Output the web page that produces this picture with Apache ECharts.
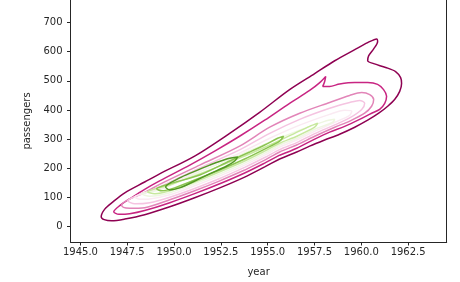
<!DOCTYPE html>
<html><head><meta charset="utf-8">
<script src="https://cdn.jsdelivr.net/npm/echarts@6/dist/echarts.min.js"></script>
<style>html,body{margin:0;padding:0;background:#fff}#chart{width:460px;height:282px}</style>
</head><body><div id="chart"></div>
<script>
const xTicks = [1945.0, 1947.5, 1950.0, 1952.5, 1955.0, 1957.5, 1960.0, 1962.5];
const yTicks = [0, 100, 200, 300, 400, 500, 600, 700];

// KDE contour lines (year, passengers), outermost (lowest density) first
const contour1 = [[1946.11,34],[1946.30,60],[1946.72,84],[1947.37,116],[1948.43,153],[1949.23,181],[1951.10,242],[1952.97,320],[1954.57,392],[1956.17,470],[1957.51,525],[1958.58,569],[1959.65,607],[1960.34,631],[1960.82,644],[1960.87,634],[1960.66,610],[1960.39,586],[1960.34,569],[1960.66,559],[1961.30,546],[1961.83,532],[1962.10,511],[1962.15,491],[1962.05,464],[1961.78,436],[1961.41,413],[1960.93,389],[1960.34,365],[1959.65,341],[1958.84,317],[1958.04,297],[1957.24,276],[1956.55,256],[1955.64,232],[1954.84,205],[1953.77,170],[1952.44,133],[1951.10,99],[1949.77,68],[1948.43,41],[1947.37,26],[1946.67,20],[1946.27,24],[1946.11,34]];
const contour2 = [[1946.78,51],[1947.10,72],[1947.63,95],[1948.43,128],[1949.23,157],[1950.84,211],[1952.17,259],[1953.50,310],[1954.84,365],[1956.17,423],[1957.24,467],[1957.78,494],[1958.10,515],[1958.04,497],[1957.94,481],[1958.31,481],[1958.84,489],[1959.65,494],[1960.34,494],[1960.87,488],[1961.19,470],[1961.35,447],[1961.25,423],[1960.98,402],[1960.55,389],[1959.91,368],[1959.11,344],[1958.31,324],[1957.51,300],[1956.55,269],[1955.64,245],[1954.84,218],[1953.77,184],[1952.44,147],[1951.10,113],[1949.77,82],[1948.43,55],[1947.63,44],[1947.05,42],[1946.78,51]];
const contour3 = [[1947.20,75],[1947.53,92],[1948.43,117],[1949.23,145],[1951.37,211],[1953.50,276],[1955.11,341],[1956.71,389],[1958.31,426],[1959.38,450],[1960.02,460],[1960.45,453],[1960.66,436],[1960.55,413],[1960.18,389],[1959.38,362],[1958.58,341],[1957.51,310],[1956.55,280],[1955.64,256],[1954.84,228],[1953.77,194],[1952.44,157],[1951.10,123],[1949.77,92],[1948.43,65],[1947.63,63],[1947.30,66],[1947.20,75]];
const contour4 = [[1947.53,89],[1948.17,109],[1949.23,136],[1951.37,201],[1953.50,263],[1955.11,320],[1956.71,368],[1958.31,406],[1959.38,426],[1959.91,433],[1960.18,423],[1960.02,402],[1959.38,373],[1958.58,349],[1957.51,319],[1956.55,288],[1955.64,264],[1954.84,237],[1953.77,203],[1952.44,165],[1951.10,131],[1949.77,101],[1948.70,82],[1947.90,78],[1947.53,89]];
const contour5 = [[1947.90,102],[1949.23,130],[1951.37,194],[1953.50,252],[1955.11,303],[1956.71,348],[1958.31,385],[1959.11,399],[1959.49,396],[1959.38,382],[1958.58,358],[1957.51,327],[1956.55,297],[1955.64,273],[1954.84,245],[1953.77,211],[1952.44,174],[1951.10,140],[1949.77,109],[1948.70,95],[1948.17,94],[1947.90,102]];
const contour6 = [[1948.27,113],[1949.23,126],[1951.37,188],[1953.50,245],[1955.11,290],[1956.71,331],[1958.04,361],[1958.58,368],[1958.47,358],[1957.51,334],[1956.55,303],[1955.64,280],[1954.84,252],[1953.77,218],[1952.44,181],[1951.10,147],[1949.77,116],[1948.70,104],[1948.27,113]];
const contour7 = [[1948.59,119],[1949.77,143],[1951.37,181],[1953.50,235],[1955.11,280],[1956.44,320],[1957.24,344],[1957.67,355],[1957.51,341],[1956.55,310],[1955.64,286],[1954.84,259],[1953.77,225],[1952.44,188],[1951.10,153],[1949.77,123],[1948.97,113],[1948.59,119]];
const contour8 = [[1949.07,130],[1949.77,147],[1951.37,177],[1952.97,225],[1954.04,256],[1954.84,280],[1955.53,303],[1955.85,310],[1955.64,293],[1954.84,266],[1953.77,232],[1952.44,194],[1951.10,160],[1950.03,133],[1949.34,123],[1949.07,130]];
const contour9 = [[1949.55,136],[1950.30,167],[1951.00,187],[1951.90,211],[1952.81,232],[1953.40,239],[1953.24,225],[1952.81,208],[1951.90,181],[1951.00,153],[1950.30,133],[1949.77,126],[1949.55,136]];

const contours = [contour1, contour2, contour3, contour4, contour5, contour6, contour7, contour8, contour9];
const levelColors = ['#8e0152','#c82582','#e285b8','#f5c4e1','#faeaf2','#eef6e1','#c7e89e','#8bc450','#529724'];

// start each closed ring on its lower edge so the smoothed tips have no seam
function ringFromLowerEdge(c) {
  const open = c.slice(0, -1);
  const k = Math.floor(open.length * 0.78);
  return open.slice(k).concat(open.slice(0, k + 1));
}

const ink = '#262626';
const font = 'DejaVu Sans';
const chart = echarts.init(document.getElementById('chart'), null, {renderer: 'canvas'});
chart.setOption({
  animation: false,
  backgroundColor: '#ffffff',
  grid: {left: 70.5, right: 13.3, top: 0, bottom: 38.5, containLabel: false},
  xAxis: {
    type: 'value', min: 1944.47, max: 1964.56,
    name: 'year', nameLocation: 'middle', nameGap: 25,
    nameTextStyle: {color: ink, fontSize: 10, fontFamily: font},
    axisLine: {show: true, onZero: false, lineStyle: {color: ink, width: 1}},
    axisTick: {show: true, customValues: xTicks, length: 3.5, lineStyle: {color: ink, width: 1}},
    axisLabel: {customValues: xTicks, formatter: v => Number(v).toFixed(1), margin: 5, color: ink, fontSize: 10, fontFamily: font},
    splitLine: {show: false}
  },
  yAxis: [{
    type: 'value', min: -52.8, max: 777.4,
    name: 'passengers', nameLocation: 'middle', nameGap: 32, nameRotate: 90,
    nameTextStyle: {color: ink, fontSize: 10, fontFamily: font},
    axisLine: {show: true, onZero: false, lineStyle: {color: ink, width: 1}},
    axisTick: {show: true, customValues: yTicks, length: 3.5, lineStyle: {color: ink, width: 1}},
    axisLabel: {customValues: yTicks, margin: 8, color: ink, fontSize: 10, fontFamily: font},
    splitLine: {show: false}
  }, {
    type: 'value', position: 'right', min: -52.8, max: 777.4,
    axisLine: {show: true, onZero: false, lineStyle: {color: ink, width: 1}},
    axisTick: {show: false}, axisLabel: {show: false}, splitLine: {show: false}
  }],
  series: contours.map((c, i) => ({
    type: 'line', data: ringFromLowerEdge(c), smooth: 0.3, showSymbol: false, silent: true,
    lineStyle: {color: levelColors[i], width: 1.5}, z: 2 + i
  }))
});
</script>
</body></html>
